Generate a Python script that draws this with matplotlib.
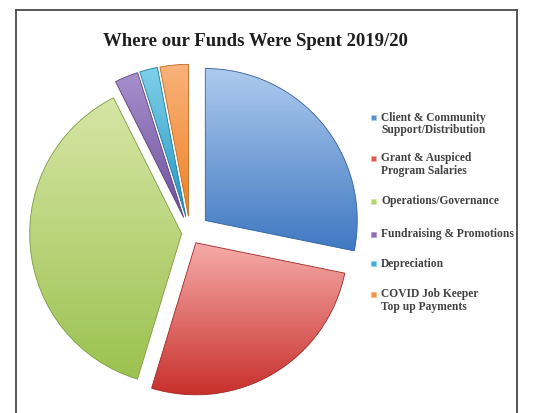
import numpy as np
import matplotlib
matplotlib.use("Agg")
import matplotlib.pyplot as plt
from matplotlib.colors import to_rgb
from matplotlib.patches import Rectangle
from matplotlib.lines import Line2D

# ============================================================
# DATA (percent of spend)
# ============================================================
categories = [
    "Client & Community\nSupport/Distribution",
    "Grant & Auspiced\nProgram Salaries",
    "Operations/Governance",
    "Fundraising & Promotions",
    "Depreciation",
    "COVID Job Keeper\nTop up Payments",
]
values = [28.2, 26.5, 37.9, 2.5, 1.9, 3.0]

# base colour + (top, bottom) gradient colours
colors = ["#5b8fd0", "#e05a55", "#b3d46a", "#8a6cb3", "#3fb0d6", "#f5913d"]
grad_top = ["#aecbee", "#f6aba8", "#d6e6a6", "#a690cc", "#7fd0ea", "#f9b27a"]
grad_bot = ["#3f78c2", "#c8302c", "#9cc250", "#6f4f9c", "#2596c0", "#ef8225"]
explode = [0.13, 0.075, 0.055, 0.11, 0.11, 0.11]

W, H = 539, 414
CX, CY, R = 190, 234, 152  # pie centre / radius in pixels


def fx(px):
    return px / W


def fy(py):
    return 1 - py / H


fig = plt.figure(figsize=(W / 100, H / 100), dpi=100)
fig.patch.set_facecolor("white")
ax = fig.add_axes([0, 0, 1, 1])

wedges, _ = ax.pie(
    values,
    colors=colors,
    startangle=90,
    counterclock=False,
    explode=explode,
    wedgeprops=dict(linewidth=0.6),
)

# gradient fill clipped to each wedge
for w, ct, cb in zip(wedges, grad_top, grad_bot):
    ext = w.get_path().get_extents()
    t = np.linspace(0, 1, 200)[:, None]
    img = (1 - t) * np.array(to_rgb(ct)) + t * np.array(to_rgb(cb))
    img = img[:, None, :]
    im = ax.imshow(img, extent=[ext.x0, ext.x1, ext.y0, ext.y1],
                   aspect="auto", zorder=w.get_zorder() + 0.1, interpolation="bilinear")
    im.set_clip_path(w)
    w.set_edgecolor(tuple(c * 0.8 for c in to_rgb(cb)))
    w.set_zorder(w.get_zorder() + 0.2)
    w.set_facecolor("none")

ax.set_xlim((0 - CX) / R, (W - CX) / R)
ax.set_ylim((CY - H) / R, CY / R)
ax.set_aspect("auto")
ax.axis("off")

# ============================================================
# FRAME, TITLE, LEGEND
# ============================================================
frame_kw = dict(color="#4a4a4a", linewidth=1.3, transform=fig.transFigure)
fig.add_artist(Line2D([fx(16), fx(16)], [fy(11), 0], **frame_kw))
fig.add_artist(Line2D([fx(517), fx(517)], [fy(11), 0], **frame_kw))
fig.add_artist(Line2D([fx(16), fx(517)], [fy(11), fy(11)], **frame_kw))

fig.text(fx(255), fy(42), "Where our Funds Were Spent 2019/20",
         ha="center", va="center", fontsize=13.5, fontweight="bold",
         family="Liberation Serif", color="#1e1e1e")

leg_y = [118, 159, 202, 235, 264, 295]
for lab, c, ct, py in zip(categories, colors, grad_top, leg_y):
    fig.add_artist(Rectangle((fx(371), fy(py + 3)), 5 / W, 5 / H,
                             facecolor=c, edgecolor=ct, linewidth=0.4,
                             transform=fig.transFigure))
    fig.text(fx(381), fy(py - 6.5), lab, ha="left", va="top",
             fontsize=8.3, fontweight="bold", family="Liberation Serif",
             color="#424242", linespacing=1.1)

fig.savefig("out.png", dpi=100, facecolor="white")
